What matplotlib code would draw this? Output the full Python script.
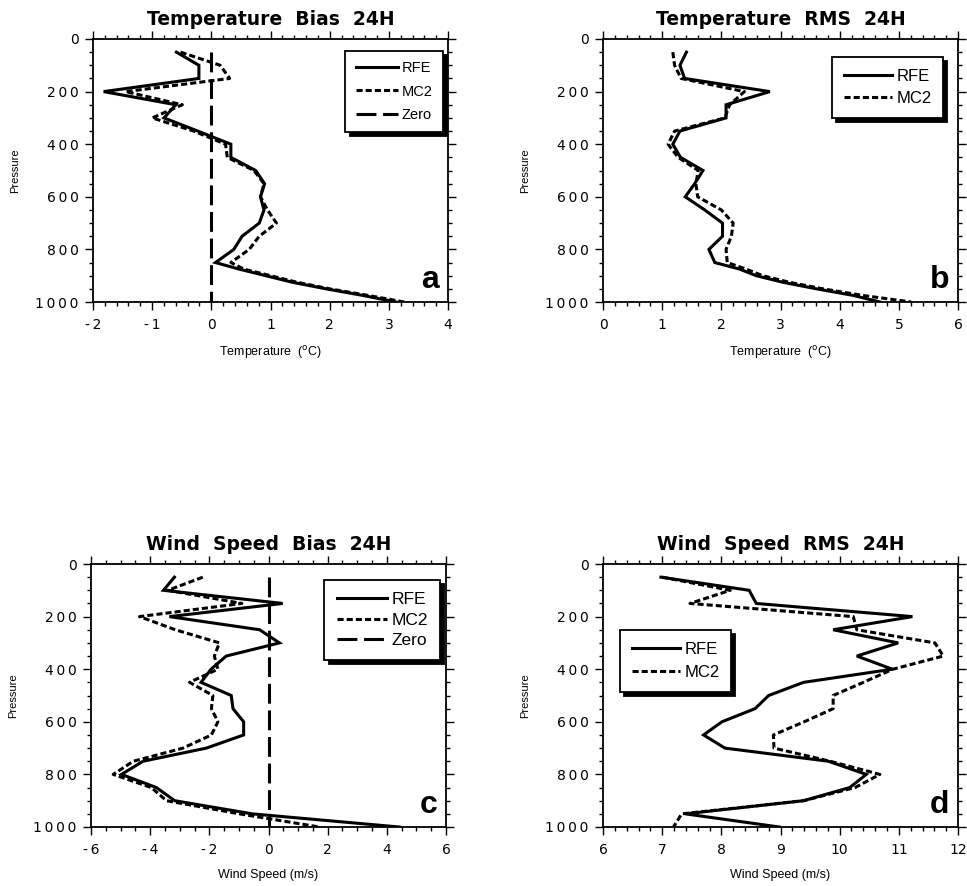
"""Four-panel verification profiles: bias and RMS of temperature and wind speed, 24H."""

import matplotlib

matplotlib.use("Agg")

import matplotlib.pyplot as plt  # noqa: E402
from matplotlib.ticker import MultipleLocator  # noqa: E402

plt.rcParams["font.family"] = ["Liberation Sans", "DejaVu Sans"]

TEXT_COLOR = "#000000"
LINE_COLOR = "#000000"
TICK_FONT = ["DejaVu Sans"]
THIN = "\u2009"

# Pressure levels (hPa)
P_TEMP = [50, 100, 150, 200, 250, 300, 350, 400, 450, 500, 550, 600, 650,
          700, 750, 800, 850, 875, 900, 925, 950, 975, 1000]
P_WIND = [50, 100, 150, 200, 250, 300, 350, 400, 450, 500, 550, 600, 650,
          700, 750, 800, 850, 900, 950, 1000]

# (a) temperature bias
TBIAS_RFE = [-0.59, -0.21, -0.21, -1.82, -0.60, -0.80, -0.23, 0.33, 0.33, 0.75,
             0.90, 0.83, 0.89, 0.81, 0.52, 0.38, 0.07, 0.47, 0.92, 1.37,
             1.94, 2.56, 3.12]
TBIAS_MC2 = [-0.52, 0.15, 0.31, -1.45, -0.49, -1.00, -0.30, 0.24, 0.27, 0.72,
             0.89, 0.83, 0.95, 1.10, 0.81, 0.64, 0.33, 0.55, 1.00, 1.45,
             2.00, 2.65, 3.26]

# (b) temperature RMS
TRMS_RFE = [1.41, 1.30, 1.38, 2.82, 2.08, 2.08, 1.30, 1.18, 1.31, 1.69,
            1.55, 1.39, 1.72, 2.02, 2.02, 1.79, 1.89, 2.31, 2.59, 3.04,
            3.61, 4.23, 4.68]
TRMS_MC2 = [1.18, 1.21, 1.32, 2.39, 2.14, 2.06, 1.21, 1.10, 1.27, 1.61,
            1.57, 1.60, 2.00, 2.20, 2.17, 2.08, 2.10, 2.42, 2.70, 3.15,
            3.72, 4.39, 5.21]

# (c) wind speed bias
WBIAS_RFE = [-3.18, -3.55, 0.48, -3.35, -0.30, 0.37, -1.43, -1.94, -2.28, -1.26,
             -1.20, -0.84, -0.84, -2.10, -4.24, -4.97, -3.79, -3.17, -0.55, 4.42]
WBIAS_MC2 = [-2.22, -3.40, -0.90, -4.36, -3.15, -1.66, -1.83, -1.71, -2.67, -1.88,
             -1.93, -1.71, -1.93, -2.89, -4.57, -5.25, -3.96, -3.45, -0.98, 1.72]

# (d) wind speed RMS
WRMS_RFE = [6.98, 8.47, 8.59, 11.23, 9.89, 10.99, 10.29, 10.89, 9.39, 8.80,
            8.57, 8.01, 7.70, 8.06, 9.81, 10.45, 10.17, 9.39, 7.39, 8.98]
WRMS_MC2 = [7.00, 8.15, 7.47, 10.23, 10.29, 11.61, 11.75, 10.90, 10.40, 9.89,
            9.89, 9.40, 8.88, 8.89, 9.84, 10.68, 10.26, 9.39, 7.33, 7.19]

ZERO_P = [50, 1000]
ZERO_X = [0, 0]

PRESSURE_TICKS = [0, 200, 400, 600, 800, 1000]


def _fmt_x(v):
    v = int(round(v))
    return f"-{THIN}{abs(v)}" if v < 0 else f"{v}"


def _fmt_y(v):
    return THIN.join(str(int(v)))


def _panel(ax, levels, rfe, mc2, xlim, xstep, xminor, title, xlabel, letter,
           legend_anchor, legend_loc, legend_size, legend_gap, zero=False):
    ax.plot(rfe, levels, color=LINE_COLOR, lw=2.2, label="RFE",
            solid_joinstyle="miter")
    ax.plot(mc2, levels, color=LINE_COLOR, lw=2.2, ls=(0, (2.0, 1.0)),
            label="MC2")
    if zero:
        ax.plot(ZERO_X, ZERO_P, color=LINE_COLOR, lw=2.2, ls=(0, (6.5, 2.2)),
                label="Zero")

    ax.set_xlim(*xlim)
    ax.set_ylim(1000, 0)

    xt = []
    v = xlim[0]
    while v <= xlim[1] + 1e-9:
        xt.append(v)
        v += xstep
    ax.set_xticks(xt)
    ax.set_xticklabels([_fmt_x(t) for t in xt], fontsize=10, family=TICK_FONT)
    ax.xaxis.set_minor_locator(MultipleLocator(xminor))
    ax.set_yticks(PRESSURE_TICKS)
    ax.set_yticklabels([_fmt_y(t) for t in PRESSURE_TICKS], fontsize=10,
                       family=TICK_FONT)
    ax.yaxis.set_minor_locator(MultipleLocator(50))

    ax.tick_params(which="both", top=True, right=True, color=TEXT_COLOR,
                   width=1.0, direction="out")
    ax.tick_params(which="major", length=6)
    ax.tick_params(axis="x", which="major", pad=5.5)
    ax.tick_params(axis="y", which="major", pad=4.5)
    ax.tick_params(which="minor", length=3)
    for spine in ax.spines.values():
        spine.set_linewidth(1.3)

    ax.set_title(title, fontsize=13.5, fontweight="bold", pad=10,
                 family=TICK_FONT)
    ax.set_xlabel(xlabel, fontsize=9, labelpad=9)
    ax.set_ylabel("Pressure", fontsize=8, labelpad=11)

    ax.text(0.975, 0.025, letter, transform=ax.transAxes, ha="right",
            va="bottom", fontsize=23, fontweight="bold")

    leg = ax.legend(loc=legend_loc, bbox_to_anchor=legend_anchor,
                    fontsize=legend_size, frameon=True, fancybox=False,
                    handlelength=2.9, handletextpad=0.25, borderpad=0.7,
                    labelspacing=legend_gap, borderaxespad=0,
                    shadow={"color": "black", "alpha": 1, "ox": 3, "oy": -3})
    leg.get_frame().set_edgecolor("black")
    leg.get_frame().set_linewidth(1.3)
    leg.get_frame().set_alpha(1)


fig = plt.figure(figsize=(9.67, 8.86), dpi=100, facecolor="white")

W = 355 / 967
H = 263 / 886
ax_a = fig.add_axes([93 / 967, 1 - 302 / 886, W, H])
ax_b = fig.add_axes([603 / 967, 1 - 302 / 886, W, H])
ax_c = fig.add_axes([91 / 967, 1 - 827 / 886, W, H])
ax_d = fig.add_axes([603 / 967, 1 - 827 / 886, W, H])

_panel(ax_a, P_TEMP, TBIAS_RFE, TBIAS_MC2, (-2, 4), 1, 0.2,
       "Temperature  Bias  24H", "Temperature  ($^{\\mathrm{o}}$C)", "a",
       (0.985, 0.955), "upper right", 10.5, 0.65, zero=True)
_panel(ax_b, P_TEMP, TRMS_RFE, TRMS_MC2, (0, 6), 1, 0.2,
       "Temperature  RMS  24H", "Temperature  ($^{\\mathrm{o}}$C)", "b",
       (0.958, 0.932), "upper right", 12, 0.45)
_panel(ax_c, P_WIND, WBIAS_RFE, WBIAS_MC2, (-6, 6), 2, 0.5,
       "Wind  Speed  Bias  24H", "Wind Speed (m/s)", "c",
       (0.983, 0.939), "upper right", 12.5, 0.3, zero=True)
_panel(ax_d, P_WIND, WRMS_RFE, WRMS_MC2, (6, 12), 1, 0.2,
       "Wind  Speed  RMS  24H", "Wind Speed (m/s)", "d",
       (0.048, 0.749), "upper left", 12, 0.5)

fig.savefig("out.png", dpi=100, facecolor="white")
